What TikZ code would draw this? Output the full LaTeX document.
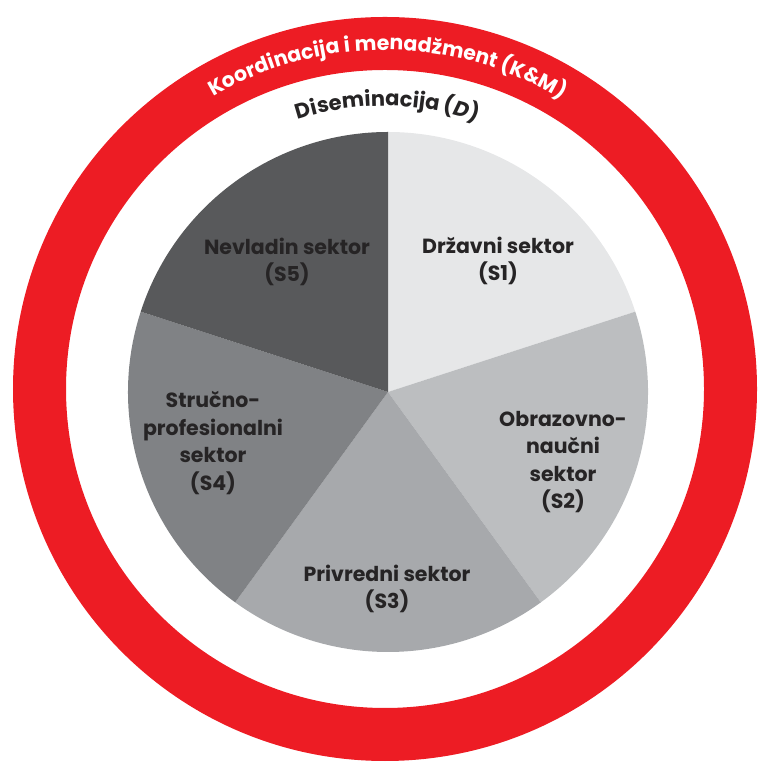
\documentclass[tikz,border=0pt]{standalone}
\usepackage{fontspec}
\setmainfont{Poppins}
\usepackage{xcolor}
\usetikzlibrary{decorations.text}
\definecolor{kmred}{RGB}{237, 28, 36}
\definecolor{sectorone}{RGB}{230, 231, 232}
\definecolor{sectortwo}{RGB}{188, 190, 192}
\definecolor{sectorthree}{RGB}{167, 169, 172}
\definecolor{sectorfour}{RGB}{128, 130, 133}
\definecolor{sectorfive}{RGB}{88, 89, 91}
\definecolor{labeltext}{RGB}{38, 36, 37}
\newcommand{\ringfont}{\fontsize{20.5}{20.5}\selectfont\bfseries\color{white}}
\newcommand{\dissfont}{\fontsize{21}{21}\selectfont\bfseries\color{labeltext}}

\begin{document}
\begin{tikzpicture}[
	x=1pt, y=1pt,
	% ring and sectors
	kmring/.style={
			draw=kmred,
			line width=53pt
		},
	sectorlabel/.style={
			align=center,
			inner sep=0pt,
			font=\fontsize{20.5}{27.5}\selectfont\bfseries,
			text=labeltext
		}
	]

	\useasboundingbox (0, 0) rectangle (757, 767);
	\coordinate (ringc) at (385, 378);
	\coordinate (piec) at (388, 375);

	% Red outer ring
	\draw[kmring] (ringc) circle[radius=345.5pt];

	% Pie sectors
	\fill[sectorone] (piec) -- ++(18:260pt) arc[start angle=18, end angle=90, radius=260pt] -- cycle;
	\fill[sectortwo] (piec) -- ++(-54:260pt) arc[start angle=-54, end angle=18, radius=260pt] -- cycle;
	\fill[sectorthree] (piec) -- ++(-126:260pt) arc[start angle=-126, end angle=-54, radius=260pt] -- cycle;
	\fill[sectorfour] (piec) -- ++(162:260pt) arc[start angle=162, end angle=234, radius=260pt] -- cycle;
	\fill[sectorfive] (piec) -- ++(90:260pt) arc[start angle=90, end angle=162, radius=260pt] -- cycle;

	% Sector labels
	\node[sectorlabel] (s1) at (498, 506) {Državni sektor\\(S1)};
	\node[sectorlabel] (s2) at (563, 305) {Obrazovno-\\naučni\\sektor\\(S2)};
	\node[sectorlabel] (s3) at (387, 178) {Privredni sektor\\(S3)};
	\node[sectorlabel] (s4) at (213, 324) {Stručno-\\profesionalni\\sektor\\(S4)};
	\node[sectorlabel] (s5) at (287, 505) {Nevladin sektor\\(S5)};

	% Curved texts
	\path[decorate, decoration={text along path, text align=center,
				text={|\ringfont|Koordinacija i menadžment (K{\&}M)}}]
		(ringc) ++(135:339pt) arc[start angle=135, end angle=44, radius=339pt];
	\path[decorate, decoration={text along path, text align=center,
				text={|\dissfont|Diseminacija (|\dissfont\itshape|D|\dissfont|)}}]
		(ringc) ++(135:283pt) arc[start angle=135, end angle=44, radius=283pt];

\end{tikzpicture}
\end{document}
